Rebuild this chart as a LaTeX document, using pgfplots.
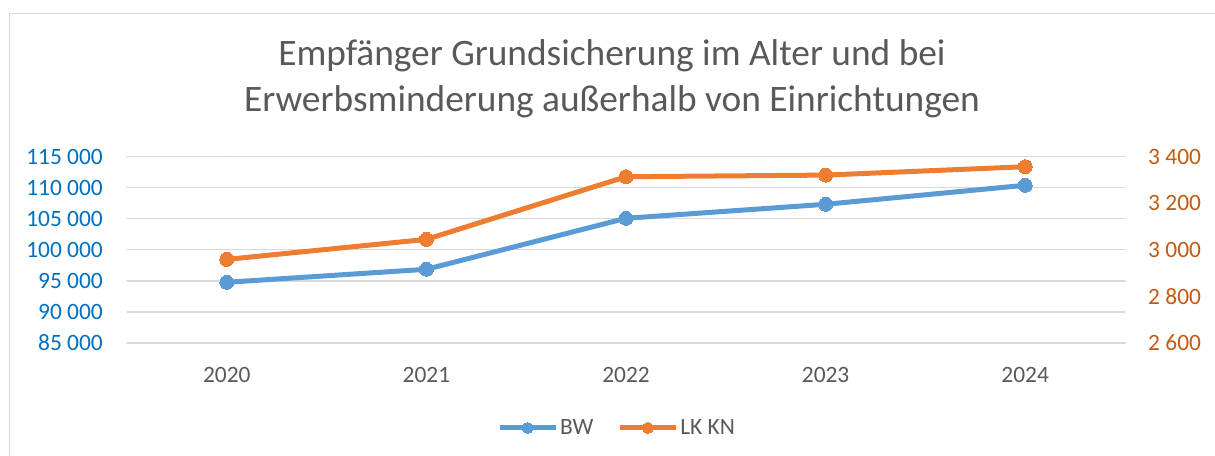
\documentclass[border=0pt]{standalone}
\usepackage{pgfplots}
\pgfplotsset{compat=1.18}
\usepackage{fontspec}
\setmainfont{Carlito}
\definecolor{bwblue}{HTML}{5B9BD5}
\definecolor{knorange}{HTML}{ED7D31}
\definecolor{lefttick}{HTML}{0070C0}
\definecolor{righttick}{HTML}{C55A11}
\definecolor{txtgray}{HTML}{595959}
\definecolor{gridgray}{HTML}{D9D9D9}
\begin{document}
\begin{tikzpicture}[x=1bp,y=1bp]
\useasboundingbox (0,0) rectangle (1215,456);
\fill[white] (0,0) rectangle (1215,456);
\draw[gridgray, line width=1.5bp] (9.5,-5) -- (9.5,442.5) -- (1220,442.5);
\node[txtgray, align=center, font=\fontsize{37.5}{46}\selectfont] at (612,377) {Empfänger Grundsicherung im Alter und bei\\Erwerbsminderung außerhalb von Einrichtungen};
\pgfplotsset{
  common/.style={
    at={(127bp,113bp)}, anchor=south west,
    scale only axis, width=998bp, height=186.3bp,
    xmin=-0.5, xmax=4.5,
    major tick length=0pt,
    axis line style={draw=none},
    tick label style={font=\fontsize{23.5}{27}\selectfont, inner sep=0pt},
    /pgf/number format/assume math mode=true,
    /pgf/number format/fixed,
    /pgf/number format/precision=0,
    /pgf/number format/1000 sep={\ },
    line cap=round, line join=round,
  }
}
\begin{axis}[common,
  ymin=85000, ymax=115000, ytick distance=5000,
  ymajorgrids, grid style={gridgray, line width=1.3bp},
  xtick={0,1,2,3,4}, xticklabels={2020,2021,2022,2023,2024},
  xticklabel style={txtgray}, xticklabel shift=24bp,
  yticklabel style={lefttick}, yticklabel shift=24bp,
  scaled y ticks=false,
]
\addplot[bwblue, line width=5bp, mark=*, mark size=7bp, mark options={fill=bwblue, draw=bwblue, line width=0pt}] coordinates {
(0,94775) (1,96870) (2,105080) (3,107335) (4,110395)};
\end{axis}
\begin{axis}[common,
  ymin=2600, ymax=3400, ytick distance=200,
  axis y line*=right, axis x line=none,
  scaled y ticks=false,
  yticklabel style={righttick}, yticklabel shift=23bp,
  legend style={at={(0.491,-0.456)}, anchor=center, draw=none, fill=none,
    font=\fontsize{23.5}{27}\selectfont\color{txtgray}, legend columns=2,
    /tikz/every even column/.append style={column sep=22bp},
    inner sep=0pt, cells={anchor=west}},
  legend image code/.code={\draw[#1, mark repeat=2, mark phase=2, mark size=5.5bp] plot coordinates {(0bp,0bp) (28bp,0bp) (56bp,0bp)};},
]
\addlegendimage{bwblue, line width=5bp, mark=*, mark options={fill=bwblue, draw=bwblue, line width=0pt}}
\addlegendentry{BW}
\addplot[knorange, line width=5bp, mark=*, mark size=7bp, mark options={fill=knorange, draw=knorange, line width=0pt}] coordinates {
(0,2959) (1,3045) (2,3314) (3,3321) (4,3357)};
\addlegendentry{LK KN}
\end{axis}
\end{tikzpicture}
\end{document}
